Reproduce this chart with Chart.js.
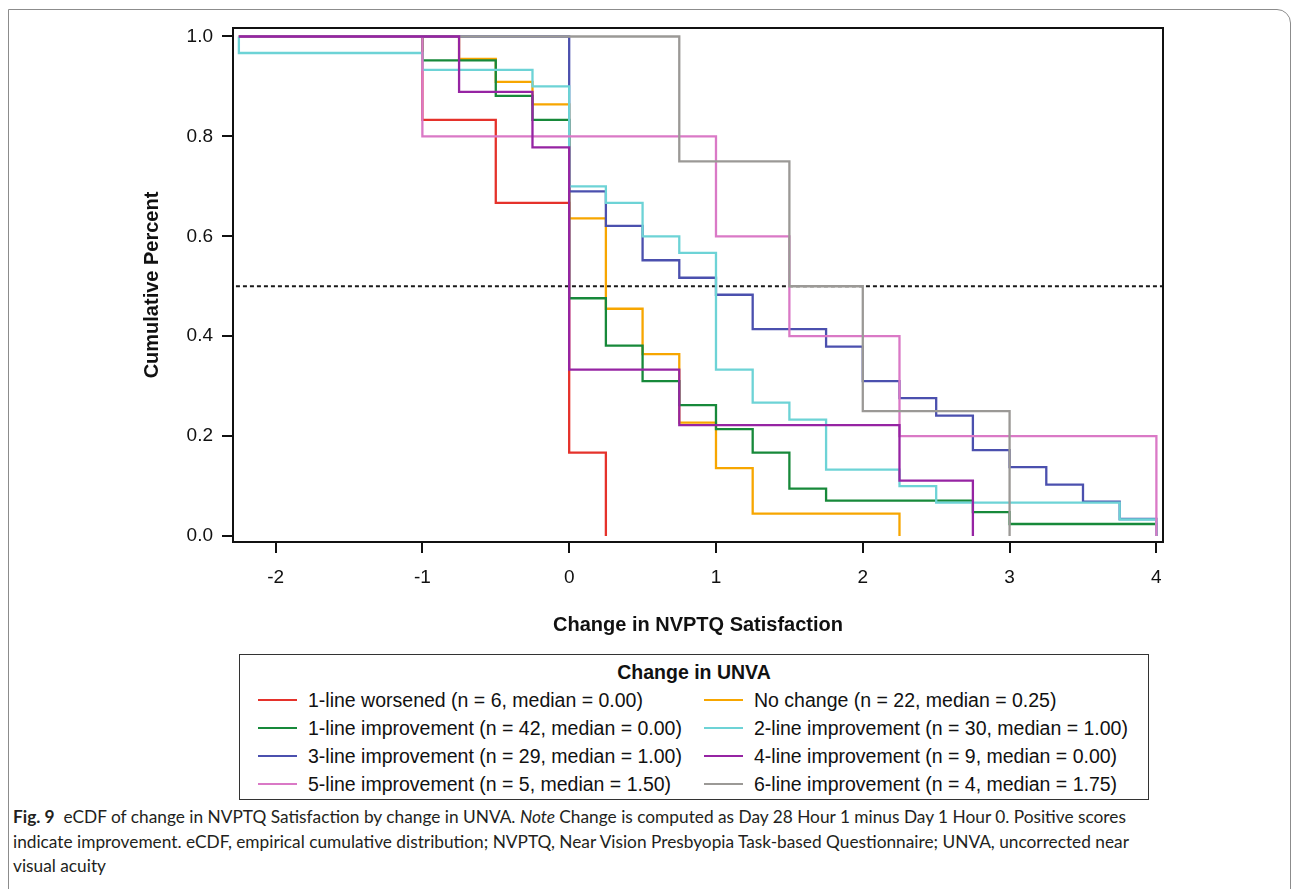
<!DOCTYPE html>
<html>
<head>
<meta charset="utf-8">
<title>eCDF of change in NVPTQ Satisfaction</title>
<script src="https://cdn.jsdelivr.net/npm/chart.js@4.4.1/dist/chart.umd.min.js"></script>
<style>
  body { margin: 0; background: #fff; width: 1293px; height: 889px; overflow: hidden; position: relative; font-family: "Liberation Sans", Arial, sans-serif; color: #111; }
  #frame { position: absolute; left: 8px; top: 9px; width: 1283px; height: 920px; border: 1px solid #8c8c8c; border-top-right-radius: 14px; box-sizing: border-box; }
  #chartBox { position: absolute; left: 0; top: 0; width: 1293px; height: 640px; }
  #legend { position: absolute; left: 239px; top: 654px; width: 910px; height: 146px; border: 1.5px solid #333; box-sizing: border-box; }
  #legend .title { position: absolute; left: 0; right: 0; top: 3px; text-align: center; font-weight: bold; font-size: 19.5px; line-height: 28px; }
  #legend .item { position: absolute; height: 28px; line-height: 28px; font-size: 19.5px; white-space: nowrap; }
  #legend .swatch { position: absolute; left: 0; top: 13px; width: 39px; height: 2px; }
  #legend .label { position: absolute; left: 50px; top: 0; }
  #caption { position: absolute; left: 13px; top: 805px; font-family: Lato, "Open Sans", sans-serif; font-size: 17.3px; line-height: 24.5px; color: #231f20; white-space: nowrap; }
</style>
</head>
<body>
<div id="frame"></div>
<div id="chartBox"><canvas id="ecdfChart" width="1293" height="640"></canvas></div>
<div id="legend"><div class="title">Change in UNVA</div></div>
<div id="caption">
  <div><b>Fig. 9</b>&nbsp; eCDF of change in NVPTQ Satisfaction by change in UNVA. <i>Note</i> Change is computed as Day 28 Hour 1 minus Day 1 Hour 0. Positive scores</div>
  <div>indicate improvement. eCDF, empirical cumulative distribution; NVPTQ, Near Vision Presbyopia Task-based Questionnaire; UNVA, uncorrected near</div>
  <div>visual acuity</div>
</div>
<script>
// axis ticks
const xTicks = [-2, -1, 0, 1, 2, 3, 4];
const yTicks = [0, 0.2, 0.4, 0.6, 0.8, 1.0];

// step positions (change in satisfaction) and cumulative share after each step
const worsenedX = [-2.25, -1, -0.5, 0, 0.25];
const worsenedY = [1, 0.833, 0.667, 0.167, 0];
const noChangeX = [-2.25, -0.75, -0.5, -0.25, 0, 0.25, 0.5, 0.75, 1, 1.25, 2.25];
const noChangeY = [1, 0.955, 0.909, 0.864, 0.636, 0.455, 0.364, 0.227, 0.136, 0.045, 0];
const line1X = [-2.25, -1, -0.5, -0.25, 0, 0.25, 0.5, 0.75, 1, 1.25, 1.5, 1.75, 2.75, 3, 4];
const line1Y = [1, 0.952, 0.881, 0.833, 0.476, 0.381, 0.310, 0.262, 0.214, 0.167, 0.095, 0.071, 0.048, 0.024, 0];
const line2X = [-2.25, -2.25, -1, -0.25, 0, 0.25, 0.5, 0.75, 1, 1.25, 1.5, 1.75, 2.25, 2.5, 3.75, 4];
const line2Y = [1, 0.967, 0.933, 0.9, 0.7, 0.667, 0.6, 0.567, 0.333, 0.267, 0.233, 0.133, 0.1, 0.067, 0.033, 0];
const line3X = [-2.25, 0, 0.25, 0.5, 0.75, 1, 1.25, 1.75, 2, 2.25, 2.5, 2.75, 3, 3.25, 3.5, 3.75, 4];
const line3Y = [1, 0.690, 0.621, 0.552, 0.517, 0.483, 0.414, 0.379, 0.310, 0.276, 0.241, 0.172, 0.138, 0.103, 0.069, 0.034, 0];
const line4X = [-2.25, -0.75, -0.25, 0, 0.75, 2.25, 2.75];
const line4Y = [1, 0.889, 0.778, 0.333, 0.222, 0.111, 0];
const line5X = [-2.25, -1, 1, 1.5, 2.25, 4];
const line5Y = [1, 0.8, 0.6, 0.4, 0.2, 0];
const line6X = [-2.25, 0.75, 1.5, 2, 3];
const line6Y = [1, 0.75, 0.5, 0.25, 0];

// dashed median reference line
const medianX = [-2.27, 4.04];
const medianY = [0.5, 0.5];

// legend labels, in legend order
const groupLabels = [
    '1-line worsened (n = 6, median = 0.00)',
    'No change (n = 22, median = 0.25)',
    '1-line improvement (n = 42, median = 0.00)',
    '2-line improvement (n = 30, median = 1.00)',
    '3-line improvement (n = 29, median = 1.00)',
    '4-line improvement (n = 9, median = 0.00)',
    '5-line improvement (n = 5, median = 1.50)',
    '6-line improvement (n = 4, median = 1.75)'
];
const groupColors = ['#e5322b', '#f7a600', '#17893a', '#6dd3d6', '#4b50ae', '#9624a3', '#da79c6', '#9b9996'];
const groupX = [worsenedX, noChangeX, line1X, line2X, line3X, line4X, line5X, line6X];
const groupY = [worsenedY, noChangeY, line1Y, line2Y, line3Y, line4Y, line5Y, line6Y];

// drawing order, top first (chart.js puts dataset 0 on top)
const drawOrder = [5, 7, 6, 3, 4, 2, 1, 0];

function toPoints(xs, ys) {
    return xs.map((x, i) => ({ x: x, y: ys[i] }));
}

const datasets = drawOrder.map(g => ({
    label: groupLabels[g],
    data: toPoints(groupX[g], groupY[g]),
    borderColor: groupColors[g],
    borderWidth: 2.3,
    stepped: true,
    pointRadius: 0,
    fill: false
}));
datasets.push({
    label: 'median',
    data: toPoints(medianX, medianY),
    borderColor: '#1a1a1a',
    borderWidth: 2,
    borderDash: [4, 3],
    pointRadius: 0,
    fill: false
});

// box around the plot area
const plotFrame = {
    id: 'plotFrame',
    afterDraw(chart) {
        const { ctx, chartArea: a } = chart;
        ctx.save();
        ctx.strokeStyle = '#111';
        ctx.lineWidth = 2;
        ctx.strokeRect(a.left, a.top, a.right - a.left, a.bottom - a.top);
        ctx.restore();
    }
};

const tickFont = { family: '"Liberation Sans", Arial, sans-serif', size: 19 };
const titleFont = { family: '"Liberation Sans", Arial, sans-serif', size: 20, weight: 'bold' };

new Chart(document.getElementById('ecdfChart'), {
    type: 'line',
    data: { datasets: datasets },
    plugins: [plotFrame],
    options: {
        responsive: false,
        animation: false,
        devicePixelRatio: 1,
        layout: { padding: { left: 137, top: 28, right: 130, bottom: 0 } },
        plugins: { legend: { display: false }, tooltip: { enabled: false } },
        scales: {
            x: {
                type: 'linear',
                min: -2.29,
                max: 4.045,
                afterBuildTicks: s => { s.ticks = xTicks.map(v => ({ value: v })); },
                afterFit: s => { s.height = 98; },
                ticks: { font: tickFont, color: '#111', padding: 13, callback: v => String(v) },
                grid: { drawOnChartArea: false, drawTicks: true, tickLength: 11, color: '#111', lineWidth: 2 },
                border: { display: false },
                title: { display: true, text: 'Change in NVPTQ Satisfaction', font: titleFont, color: '#111', padding: { top: 0, bottom: 3 } }
            },
            y: {
                type: 'linear',
                min: -0.012,
                max: 1.017,
                afterBuildTicks: s => { s.ticks = yTicks.map(v => ({ value: v })); },
                afterFit: s => { s.width = 96; },
                ticks: { font: tickFont, color: '#111', padding: 9, callback: v => v.toFixed(1) },
                grid: { drawOnChartArea: false, drawTicks: true, tickLength: 11, color: '#111', lineWidth: 2 },
                border: { display: false },
                title: { display: true, text: 'Cumulative Percent', font: titleFont, color: '#111', padding: { top: 3, bottom: 0 } }
            }
        }
    }
});

// legend box: two columns, filled row by row
const legendBox = document.getElementById('legend');
groupLabels.forEach((text, i) => {
    const item = document.createElement('div');
    item.className = 'item';
    item.style.left = (i % 2 === 0 ? 18 : 464) + 'px';
    item.style.top = (31 + Math.floor(i / 2) * 28) + 'px';
    item.innerHTML = '<span class="swatch" style="background:' + groupColors[i] + '"></span><span class="label"></span>';
    item.querySelector('.label').textContent = text;
    legendBox.appendChild(item);
});
</script>
</body>
</html>
